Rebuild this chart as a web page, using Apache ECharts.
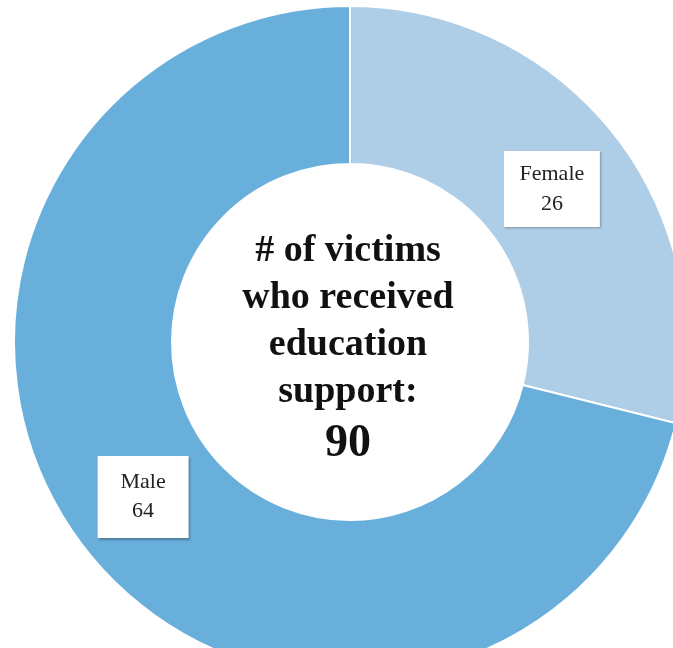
<!DOCTYPE html>
<html>
<head>
<meta charset="utf-8">
<script src="https://cdn.jsdelivr.net/npm/echarts@6/dist/echarts.min.js"></script>
<style>
  html, body { margin: 0; padding: 0; background: #ffffff; }
  #chart { width: 673px; height: 648px; }
</style>
</head>
<body>
<div id="chart"></div>
<script>
// Victims who received education support, by gender
const categories = ['Female', 'Male'];
const victimCounts = [26, 64];
const sliceColors = ['#aecde7', '#69afdb'];
const centerLines = ['# of victims', 'who received', 'education', 'support:'];
const totalVictims = victimCounts.reduce((a, b) => a + b, 0);

const labelBoxes = [
  { width: 96, padding: [15, 0, 1, 0], lineHeight: 30, offset: [-3, 7] },
  { width: 91, padding: [18, 0, 6, 0], lineHeight: 29, offset: [-2, -5] }
];

const chart = echarts.init(document.getElementById('chart'));

chart.setOption({
  animation: false,
  series: [{
    type: 'pie',
    center: [350, 342],
    radius: [178, 336],
    startAngle: 90,
    clockwise: true,
    avoidLabelOverlap: false,
    itemStyle: { borderColor: '#ffffff', borderWidth: 2 },
    label: {
      show: true,
      position: 'inside',
      formatter: '{b}\n{c}',
      fontFamily: 'Liberation Serif',
      fontSize: 22,
      color: '#222222',
      align: 'center',
      backgroundColor: '#ffffff',
      shadowColor: 'rgba(0,0,0,0.28)',
      shadowBlur: 2,
      shadowOffsetX: 1.5,
      shadowOffsetY: 1.5
    },
    labelLine: { show: false },
    emphasis: { disabled: true },
    data: categories.map((name, i) => ({
      name: name,
      value: victimCounts[i],
      itemStyle: { color: sliceColors[i] },
      label: labelBoxes[i]
    }))
  }],
  graphic: [
    {
      type: 'text',
      style: {
        x: 348,
        y: 322,
        text: centerLines.join('\n'),
        font: 'bold 38px "Liberation Serif"',
        lineHeight: 47,
        fill: '#111111',
        align: 'center',
        verticalAlign: 'middle'
      }
    },
    {
      type: 'text',
      style: {
        x: 348,
        y: 444,
        text: String(totalVictims),
        font: 'bold 46px "Liberation Serif"',
        fill: '#111111',
        align: 'center',
        verticalAlign: 'middle'
      }
    }
  ]
});
</script>
</body>
</html>
